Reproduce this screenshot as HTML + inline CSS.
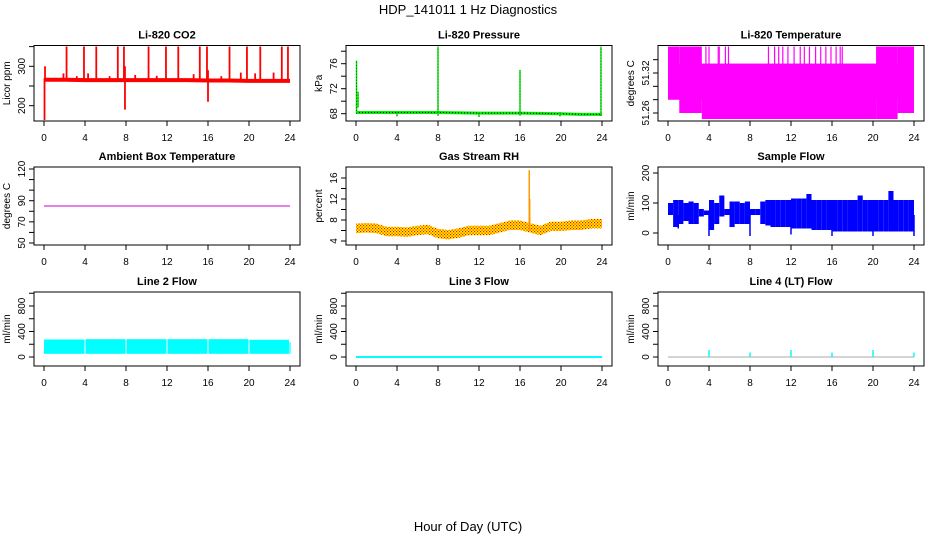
<!DOCTYPE html>
<html><head><meta charset="utf-8"><title>HDP_141011 1 Hz Diagnostics</title>
<style>
html,body{margin:0;padding:0;background:#fff;}
svg{display:block;font-family:"Liberation Sans",Arial,sans-serif;}
</style></head>
<body>
<svg id="chart" width="936" height="540" viewBox="0 0 936 540" xmlns="http://www.w3.org/2000/svg">
<defs>
<pattern id="rhdots" width="3" height="3" patternUnits="userSpaceOnUse">
<rect width="3" height="3" fill="#ffff00"/><rect x="0" y="0" width="1.2" height="1.2" fill="#ff0000"/><rect x="1.5" y="1.5" width="1.2" height="1.2" fill="#ff0000"/>
</pattern>
</defs>
<text x="468" y="14" font-size="13" text-anchor="middle">HDP_141011  1 Hz Diagnostics</text>
<text x="468" y="531" font-size="13" text-anchor="middle">Hour of Day (UTC)</text>
</svg>
<script>
// ---------- data ----------
const xTickLabels = [0,4,8,12,16,20,24];

// CO2
const co2BaseHours = [0,2,4,6,8,10,12,14,16,18,20,22,24];
const co2BaseVals  = [266,266,265,265,265,265,265,265,264,264,263,263,263];
const co2SpikeHours = [0.05,2.2,3.9,5.1,7.2,7.8,10.2,11.9,13.1,15.2,15.9,18.1,19.8,21.1,23.2,23.8,0.1,7.9,16.0,1.9,3.2,4.3,6.4,8.9,11.0,14.6,17.3,19.2,20.6,22.4];
const co2SpikeLo    = [162,262,262,262,262,262,262,262,262,262,262,262,262,262,262,262,270,190,210,262,262,262,262,262,262,262,262,262,262,262];
const co2SpikeHi    = [270,352,352,352,352,352,352,352,352,352,352,352,352,352,352,352,300,300,290,282,275,282,275,278,276,280,275,284,282,284];
const co2Ticks = [200,250,300,350];
const co2TickLabels = ["200","","300",""];

// Pressure
const presBaseHours = [0,4,8,12,16,20,22,24];
const presBaseVals  = [68.2,68.2,68.2,68.1,68.1,68.0,67.9,67.9];
const presSpikeHours = [0.05,0.2,8.0,16.0,23.9,4.0,12.0,19.9];
const presSpikeLo    = [68.0,69.0,67.7,67.7,67.7,67.6,67.5,67.6];
const presSpikeHi    = [76.5,71.5,79.0,75.0,79.0,68.2,68.2,68.2];
const presTicks = [68,70,72,74,76,78];
const presTickLabels = ["68","","72","","76",""];

// Li-820 Temperature bands
const tempBandStart = [0.0,0.0,1.1,3.3,20.3,22.4];
const tempBandEnd   = [24.0,1.1,3.3,20.3,22.4,24.0];
const tempBandLo    = [51.28,51.28,51.26,51.251,51.251,51.26];
const tempBandHi    = [51.334,51.36,51.36,51.334,51.36,51.36];
const tempSpikeHours = [3.7,4.0,4.9,5.0,5.6,5.9,9.8,10.4,10.8,11.2,11.7,12.3,12.9,13.3,13.8,14.4,14.9,15.4,15.9,16.4,16.8,17.0];
const tempTicks = [51.26,51.28,51.30,51.32,51.34];
const tempTickLabels = ["51.26","","","51.32",""];

// Ambient
const ambHours = [0,24];
const ambVals  = [85,85];
const ambTicks = [50,60,70,80,90,100,110,120];
const ambTickLabels = ["50","","70","","90","","","120"];

// RH
const rhHours = [0,1,2,3,4,5,6,7,8,9,10,11,12,13,14,15,16,17,18,19,20,21,22,23,24];
const rhVals  = [6.4,6.5,6.4,5.8,5.8,5.7,6.0,6.2,5.4,5.2,5.5,6.0,6.0,6.0,6.5,7.0,7.0,6.5,6.0,6.8,6.8,7.0,7.0,7.3,7.3];
const rhSpikeHours = [16.9,16.95];
const rhSpikeLo = [6.0,6.0];
const rhSpikeHi = [17.5,12.0];
const rhTicks = [4,6,8,10,12,14,16];
const rhTickLabels = ["4","","8","","12","","16"];

// Sample flow (half-hour bins)
const sfLo = [60,20,30,40,30,30,55,60,10,30,55,60,20,30,30,30,60,60,30,25,20,20,20,20,15,15,15,15,10,10,10,10,5,5,5,5,5,5,5,5,5,5,5,5,5,5,5,5];
const sfHi = [100,110,110,100,105,100,80,75,110,100,125,80,105,105,100,105,80,80,105,110,110,110,110,110,115,115,115,130,110,110,110,110,110,110,110,110,110,125,110,110,110,110,110,140,110,110,110,110];
const sfSpikeHours = [4.0,8.0,16.0,20.0,24.0,1.0,12.0];
const sfSpikeLo    = [-10,-10,-10,-10,-10,15,-5];
const sfSpikeHi    = [60,60,60,60,60,60,60];
const sfTicks = [0,100,200];
const sfTickLabels = ["0","100","200"];

// Line flows
const l2Start = [0.0,4.05,8.05,12.05,16.05,20.05];
const l2End   = [3.95,7.95,11.95,15.95,19.95,23.9];
const l2Lo    = [50,50,50,50,50,50];
const l2Hi    = [275,280,280,280,280,270];
const l3Hours = [0,24];
const l3Vals  = [0,0];
const l4SpikeHours = [4.0,8.0,12.0,16.0,20.0,24.0];
const l4SpikeVals  = [110,70,110,70,110,70];
const flowTicks = [0,200,400,600,800,1000];
const flowTickLabels = ["0","","400","","800",""];

// ---------- layout ----------
const NS = "http://www.w3.org/2000/svg";
const svg = document.getElementById('chart');
const cols = [[34,300],[346,612],[658,924]];
const rows = [[45.5,121],[167,245],[292,366]];

function mk(tag, attrs, parent){
  const e = document.createElementNS(NS, tag);
  for (const k in attrs) e.setAttribute(k, attrs[k]);
  (parent||svg).appendChild(e);
  return e;
}

function panel(c, r, title, ylab, v1, p1, v2, p2, ticks, tickLabels, name){
  const [x0,x1] = cols[c], [y0,y1] = rows[r];
  const g = mk('g', {});
  
  
  const sx = h => (x0+10) + h*((x1-10)-(x0+10))/24;
  const k = (p2-p1)/(v2-v1);
  const sy = v => p1 + (v-v1)*k;
  const plot = mk('g', {}, g);
  
  
  const t = mk('text', {x:(x0+x1)/2, y:y0-7, 'font-size':11, 'font-weight':'bold', 'text-anchor':'middle'}, g);
  t.textContent = title;
  
  
  const yl = mk('text', {x:0, y:0, 'font-size':10, 'text-anchor':'middle', transform:`translate(${x0-24},${(y0+y1)/2}) rotate(-90)`}, g);
  yl.textContent = ylab;
  
  
  const bx = mk('rect', {x:x0, y:y0, width:x1-x0, height:y1-y0, fill:'none', stroke:'#000', 'stroke-width':1}, g);
  
  
  const xa = mk('g', {}, g);
  
  
  xTickLabels.forEach(h => {
    mk('line', {x1:sx(h), x2:sx(h), y1:y1, y2:y1+5, stroke:'#000'}, xa);
    const tl = mk('text', {x:sx(h), y:y1+20, 'font-size':10, 'text-anchor':'middle'}, xa);
    tl.textContent = h;
    
    
  });
  const ya = mk('g', {}, g);
  
  
  ticks.forEach((v,i) => {
    const yy = sy(v);
    if (yy < y0-1 || yy > y1+1) return;
    mk('line', {x1:x0-5, x2:x0, y1:yy, y2:yy, stroke:'#000'}, ya);
    if (tickLabels[i]) {
      const tl = mk('text', {x:0, y:0, 'font-size':10, 'text-anchor':'middle', transform:`translate(${x0-9},${yy}) rotate(-90)`}, ya);
      tl.textContent = tickLabels[i];
      
      
    }
  });
  const clip = 'clip-' + name;
  const cp = mk('clipPath', {id:clip}, g);
  mk('rect', {x:x0+1, y:y0+1, width:x1-x0-2, height:y1-y0-2}, cp);
  plot.setAttribute('clip-path', `url(#${clip})`);
  g.insertBefore(plot, bx);
  return {sx, sy, plot};
}
function poly(p, hs, vs, attrs){
  return mk('polyline', Object.assign({points: hs.map((h,i)=>p.sx(h)+','+p.sy(vs[i])).join(' '), fill:'none'}, attrs), p.plot);
}
function vline(p, h, lo, hi, color, w){
  return mk('line', {x1:p.sx(h), x2:p.sx(h), y1:p.sy(lo), y2:p.sy(hi), stroke:color, 'stroke-width':w||1.5}, p.plot);
}
function band(p, a, b, lo, hi, fill){
  return mk('rect', {x:p.sx(a), y:p.sy(hi), width:p.sx(b)-p.sx(a), height:p.sy(lo)-p.sy(hi), fill:fill}, p.plot);
}

// CO2
const pc = panel(0,0,'Li-820 CO2','Licor ppm',300,66.3,200,105.7,co2Ticks,co2TickLabels,'co2');
let e = poly(pc, co2BaseHours, co2BaseVals, {stroke:'#ff0000','stroke-width':4});


co2SpikeHours.forEach((h,i)=>{ const l = vline(pc,h,co2SpikeLo[i],co2SpikeHi[i],'#ff0000',1.8);
  
   });

// Pressure
const pp = panel(1,0,'Li-820 Pressure','kPa',76,63.7,68,113.7,presTicks,presTickLabels,'pressure');
e = poly(pp, presBaseHours, presBaseVals, {stroke:'#00ee00','stroke-width':3});


e = poly(pp, presBaseHours, presBaseVals, {stroke:'#000','stroke-width':1,'stroke-dasharray':'1,2'});


presSpikeHours.forEach((h,i)=>{ const l = vline(pp,h,presSpikeLo[i],presSpikeHi[i],'#00ee00',1.5);
  
  
  const d = vline(pp,h,presSpikeLo[i],presSpikeHi[i],'#000',0.6); d.setAttribute('stroke-dasharray','1,2');
  
   });

// Temperature
const pt = panel(2,0,'Li-820 Temperature','degrees C',51.32,73,51.26,113,tempTicks,tempTickLabels,'li820-temp');
tempBandStart.forEach((s,i)=>{ const b = band(pt,s,tempBandEnd[i],tempBandLo[i],tempBandHi[i],'#ff00ff');
  
   });
tempSpikeHours.forEach(h=>{ const l = vline(pt,h,51.30,51.36,'#ff00ff',1.2);
  
   });

// Ambient
const pa = panel(0,1,'Ambient Box Temperature','degrees C',120,169,50,243,ambTicks,ambTickLabels,'ambient');
e = poly(pa, ambHours, ambVals, {stroke:'#cc00cc','stroke-width':1});



// RH
const pr = panel(1,1,'Gas Stream RH','percent',16,178,4,241,rhTicks,rhTickLabels,'rh');
const rhPts = rhHours.map((h,i)=>pr.sx(h)+','+pr.sy(rhVals[i]+0.9)).concat(rhHours.slice().reverse().map((h,j)=>{const i=rhHours.length-1-j; return pr.sx(h)+','+pr.sy(rhVals[i]-0.9);}));
e = mk('polygon', {points:rhPts.join(' '), fill:'url(#rhdots)'}, pr.plot);


rhSpikeHours.forEach((h,i)=>{ const l = vline(pr,h,rhSpikeLo[i],rhSpikeHi[i],'#ffff00',1.5);
  
  
  const d = vline(pr,h,rhSpikeLo[i],rhSpikeHi[i],'#ff0000',1.2); d.setAttribute('stroke-dasharray','1,1');
  
   });

// Sample flow
const ps = panel(2,1,'Sample Flow','ml/min',200,173,0,233,sfTicks,sfTickLabels,'sample-flow');
sfLo.forEach((lo,i)=>{ const b = band(ps,i*0.5,(i+1)*0.5,lo,sfHi[i],'#0000ff');
  
   });
sfSpikeHours.forEach((h,i)=>{ const l = vline(ps,h,sfSpikeLo[i],sfSpikeHi[i],'#0000ff',1.5);
  
   });

// Line 2
const p2 = panel(0,2,'Line 2 Flow','ml/min',800,306,0,357,flowTicks,flowTickLabels,'line2');
l2Start.forEach((s,i)=>{ const b = band(p2,s,l2End[i],l2Lo[i],l2Hi[i],'#00ffff');
  
   });
e = vline(p2,24,50,230,'#00ffff',1.2);



// Line 3
const p3 = panel(1,2,'Line 3 Flow','ml/min',800,306,0,357,flowTicks,flowTickLabels,'line3');
e = poly(p3, l3Hours, l3Vals, {stroke:'#00ffff','stroke-width':2});



// Line 4
const p4 = panel(2,2,'Line 4 (LT) Flow','ml/min',800,306,0,357,flowTicks,flowTickLabels,'line4');
e = poly(p4, l3Hours, l3Vals, {stroke:'#aaaaaa','stroke-width':1});


l4SpikeHours.forEach((h,i)=>{ const l = vline(p4,h,0,l4SpikeVals[i],'#00ffff',1.5);
  
   });
</script>
</body></html>
